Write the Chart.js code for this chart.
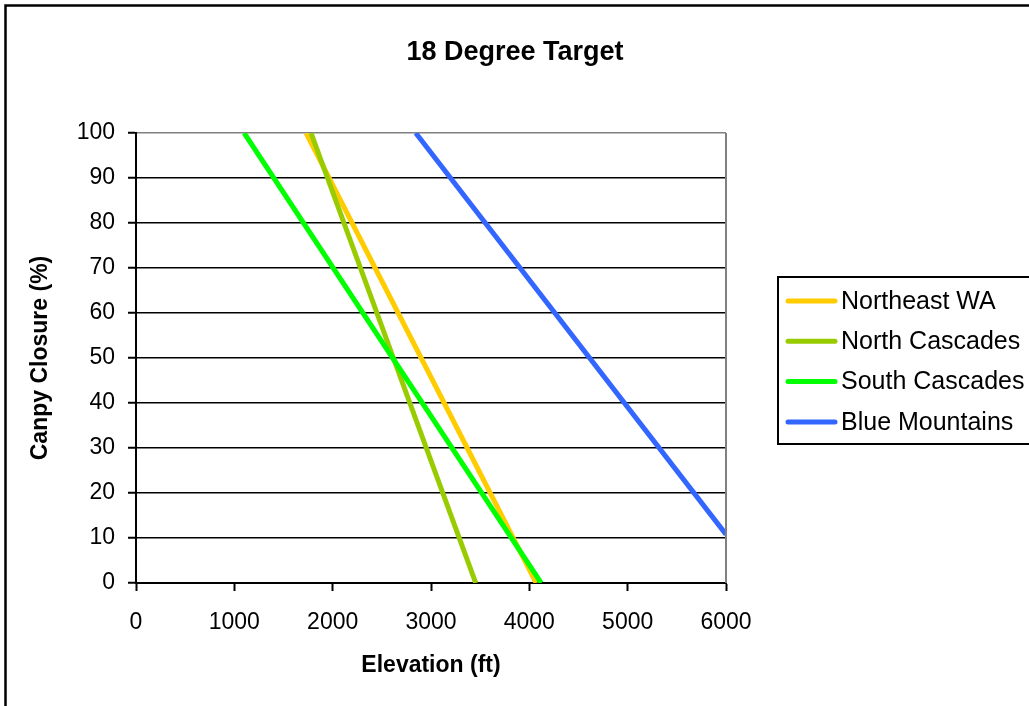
<!DOCTYPE html>
<html>
<head>
<meta charset="utf-8">
<title>18 Degree Target</title>
<script src="https://cdn.jsdelivr.net/npm/chart.js@4/dist/chart.umd.min.js"></script>
<style>
  html, body { margin: 0; padding: 0; background: #fff; }
  canvas { display: block; }
</style>
</head>
<body>
<canvas id="chart" width="1029" height="706"></canvas>
<script>
// Datos: elevación (ft) contra cierre de dosel (%)
const seriesNames = ['Northeast WA', 'North Cascades', 'South Cascades', 'Blue Mountains'];
const seriesColors = ['#FFCC00', '#99CC00', '#00FF00', '#3366FF'];

const northeastElev = [1730, 4070];
const northeastClosure = [100, 0];
const northCascadesElev = [1780, 3455];
const northCascadesClosure = [100, 0];
const southCascadesElev = [1100, 4120];
const southCascadesClosure = [100, 0];
const blueMountainsElev = [2845, 6000];
const blueMountainsClosure = [100, 10.8];

const xTickValues = [0, 1000, 2000, 3000, 4000, 5000, 6000];
const yTickValues = [0, 10, 20, 30, 40, 50, 60, 70, 80, 90, 100];

const elevations = [northeastElev, northCascadesElev, southCascadesElev, blueMountainsElev];
const closures = [northeastClosure, northCascadesClosure, southCascadesClosure, blueMountainsClosure];

const FONT = '"Liberation Sans", Arial, Helvetica, sans-serif';

// Armemos los datasets (el primero queda abajo de los demás)
const datasets = seriesNames.map((name, i) => ({
    label: name,
    data: elevations[i].map((x, j) => ({ x: x, y: closures[i][j] })),
    borderColor: seriesColors[i],
    backgroundColor: seriesColors[i],
    borderWidth: 5,
    pointRadius: 0,
    pointHoverRadius: 0,
    fill: false,
    tension: 0,
    order: seriesNames.length - i
}));

// Título, marco exterior, borde derecho gris y leyenda dibujados a mano
const decorations = {
    id: 'decorations',
    beforeDraw(chart) {
        const ctx = chart.ctx;
        ctx.save();
        ctx.fillStyle = '#fff';
        ctx.fillRect(0, 0, chart.width, chart.height);
        ctx.restore();
    },
    afterDraw(chart) {
        const ctx = chart.ctx;
        const a = chart.chartArea;
        ctx.save();

        // marco exterior (solo se ven los lados izquierdo y superior)
        ctx.strokeStyle = '#000';
        ctx.lineWidth = 2.5;
        ctx.beginPath();
        ctx.moveTo(5.5, chart.height + 10);
        ctx.lineTo(5.5, 5.5);
        ctx.lineTo(chart.width + 10, 5.5);
        ctx.stroke();

        // borde derecho del área de trazado
        ctx.strokeStyle = '#808080';
        ctx.lineWidth = 2;
        ctx.beginPath();
        ctx.moveTo(a.right, a.top);
        ctx.lineTo(a.right, a.bottom);
        ctx.stroke();

        // título
        ctx.fillStyle = '#000';
        ctx.font = 'bold 27px ' + FONT;
        ctx.textAlign = 'center';
        ctx.textBaseline = 'middle';
        ctx.fillText('18 Degree Target', 515, 53);

        // leyenda
        const lx = 778, ly = 277, lh = 167;
        ctx.strokeStyle = '#000';
        ctx.lineWidth = 2;
        ctx.strokeRect(lx, ly, chart.width + 20 - lx, lh);
        ctx.font = '25px ' + FONT;
        ctx.textAlign = 'left';
        chart.data.datasets.forEach((ds, i) => {
            const cy = ly + 24 + i * 40.3;
            ctx.strokeStyle = ds.borderColor;
            ctx.lineWidth = 5;
            ctx.lineCap = 'round';
            ctx.beginPath();
            ctx.moveTo(788, cy);
            ctx.lineTo(835, cy);
            ctx.stroke();
            ctx.fillStyle = '#000';
            ctx.fillText(ds.label, 841, cy + 1);
        });
        ctx.restore();
    }
};

const ctx = document.getElementById('chart').getContext('2d');
new Chart(ctx, {
    type: 'line',
    data: { datasets: datasets },
    options: {
        responsive: false,
        animation: false,
        devicePixelRatio: 1,
        layout: { padding: { top: 133, right: 303, bottom: 0, left: 0 } },
        plugins: {
            legend: { display: false },
            title: { display: false },
            tooltip: { enabled: false }
        },
        scales: {
            x: {
                type: 'linear',
                min: 0,
                max: 6000,
                afterBuildTicks: s => { s.ticks = xTickValues.map(v => ({ value: v })); },
                afterFit: s => { s.height = 123; },
                ticks: {
                    color: '#000',
                    padding: 18,
                    maxRotation: 0,
                    font: { family: FONT, size: 23 },
                    callback: v => String(v)
                },
                grid: {
                    drawOnChartArea: false,
                    drawTicks: true,
                    tickLength: 8,
                    tickColor: '#000',
                    tickWidth: 2
                },
                border: { display: true, color: '#000', width: 2 },
                title: {
                    display: true,
                    text: 'Elevation (ft)',
                    color: '#000',
                    font: { family: FONT, size: 23, weight: 'bold' },
                    padding: { top: 0, bottom: 27 }
                }
            },
            y: {
                type: 'linear',
                min: 0,
                max: 100,
                afterBuildTicks: s => { s.ticks = yTickValues.map(v => ({ value: v })); },
                afterFit: s => { s.width = 136; },
                ticks: {
                    color: '#000',
                    padding: 13,
                    font: { family: FONT, size: 23 },
                    callback: v => String(v)
                },
                grid: {
                    color: c => (c.tick && c.tick.value === 100 ? '#808080' : '#000'),
                    lineWidth: 1.5,
                    drawTicks: true,
                    tickLength: 8,
                    tickColor: '#000',
                    tickWidth: 2
                },
                border: { display: true, color: '#000', width: 2 },
                title: {
                    display: true,
                    text: 'Canpy Closure (%)',
                    color: '#000',
                    font: { family: FONT, size: 23, weight: 'bold' },
                    padding: { top: 27, bottom: 0 }
                }
            }
        }
    },
    plugins: [decorations]
});
</script>
</body>
</html>
